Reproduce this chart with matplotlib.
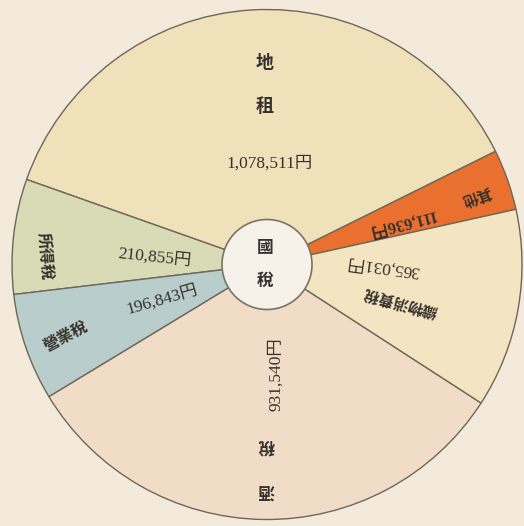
import matplotlib
matplotlib.use("Agg")
import matplotlib.pyplot as plt
from matplotlib.patches import Circle

# 國稅 (national taxes), in yen
labels = ["其他", "地租", "所得稅", "營業稅", "酒稅", "織物消費稅"]
values = [111636, 1078511, 210855, 196843, 931540, 365031]
value_text = ["111,636円", "1,078,511円", "210,855円", "196,843円", "931,540円", "365,031円"]
colors = ["#e9702f", "#efe1ba", "#d8dbb5", "#b8cdcc", "#f1dcc8", "#f3e5c1"]

W, H = 524, 526
CX, CY = 267, H - 264.5
R = 255

KANJI = ["Noto Sans CJK TC", "DejaVu Sans"]
NUM = ["Liberation Serif", "Noto Sans CJK TC"]
INK = "#37312c"

fig = plt.figure(figsize=(W / 100, H / 100), dpi=100)
fig.patch.set_facecolor("#f3eadc")
ax = fig.add_axes([0, 0, 1, 1])
ax.set_facecolor("#f3eadc")

ax.pie(values, colors=colors, startangle=12.5, counterclock=True,
       center=(CX, CY), radius=R,
       wedgeprops=dict(edgecolor="#6f6759", linewidth=1.0))
ax.set_xlim(0, W)
ax.set_ylim(0, H)
ax.set_aspect("equal")
ax.axis("off")

# centre disc
ax.add_patch(Circle((CX, CY), 45, facecolor="#f6f2ea", edgecolor="#7a7366",
                    linewidth=1.2, zorder=5))


def put(x, y, s, size, rot=0, fam=KANJI, weight="bold"):
    # x, y in picture pixels, y measured from the top
    ax.text(x, H - y, s, fontsize=size, rotation=rot, family=fam,
            weight=weight, color=INK, ha="center", va="center",
            rotation_mode="anchor", zorder=6)


put(265, 248, "國", 12)
put(265, 281, "稅", 12)

# 地租
put(265, 62, "地", 13)
put(265, 107, "租", 13)
put(270, 164, value_text[1], 12.5, fam=NUM, weight="normal")

# 其他
put(476, 196, labels[0], 11, rot=200)
put(402, 222, value_text[0], 12, rot=194, fam=NUM, weight="bold")

# 織物消費稅
put(383, 266, value_text[5], 12.5, rot=172, fam=NUM, weight="normal")
put(400, 302, labels[5], 11, rot=165)

# 酒稅
put(276, 374, value_text[4], 12.5, rot=90, fam=NUM, weight="normal")
put(266, 445, "稅", 12, rot=180)
put(266, 490, "酒", 12, rot=180)

# 營業稅
put(162, 300, value_text[3], 12.5, rot=16, fam=NUM, weight="normal")
put(66, 336, labels[3], 11.5, rot=28)

# 所得稅
put(155, 258, value_text[2], 12.5, rot=-6, fam=NUM, weight="normal")
put(45, 256, labels[2], 11.5, rot=-85)

fig.savefig("out.png", dpi=100, facecolor=fig.get_facecolor())
